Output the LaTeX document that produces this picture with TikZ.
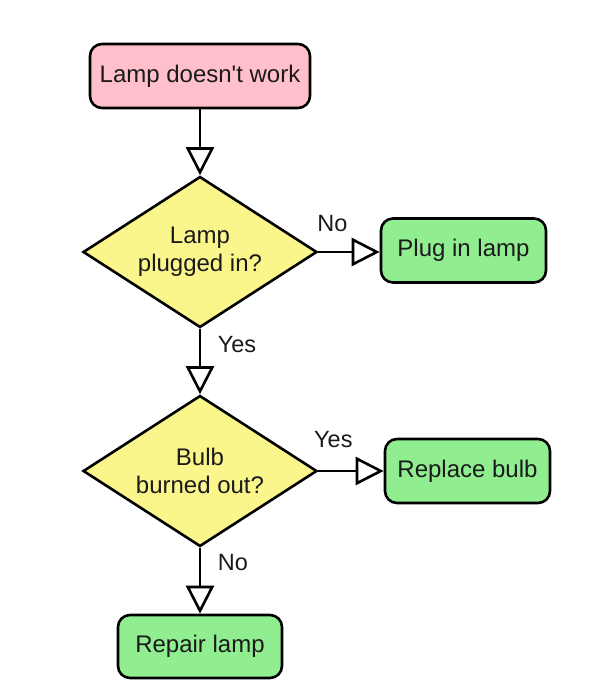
\documentclass[tikz,border=0pt]{standalone}
\usepackage{fontspec}
\setmainfont{Liberation Sans}[Ligatures=TeXOff]
\usetikzlibrary{shapes.geometric,arrows.meta}
\definecolor{boxpink}{RGB}{255,192,203}
\definecolor{boxyellow}{RGB}{250,246,140}
\definecolor{boxgreen}{RGB}{144,238,144}
\definecolor{txt}{RGB}{26,26,26}
\tikzset{
  base/.style={draw=black, line width=2.6pt, text=txt, inner sep=0pt, align=center,
    font=\fontsize{24}{28}\selectfont},
  startbox/.style={base, fill=boxpink, rounded corners=12pt, minimum width=220pt, minimum height=64pt},
  actbox/.style={base, fill=boxgreen, rounded corners=12pt, minimum width=165pt, minimum height=64pt},
  decision/.style={base, diamond, fill=boxyellow, aspect=1.56, minimum width=234pt, minimum height=151pt},
  arr/.style={draw=black, line width=2.6pt, -{Triangle[length=28pt,width=28pt,fill=white,line width=2.6pt]}},
  lbl/.style={text=txt, inner sep=0pt, font=\fontsize{23.5}{28}\selectfont}
}
\begin{document}
\begin{tikzpicture}[x=1pt,y=-1pt]
\useasboundingbox[fill=white] (0,0) rectangle (594,686);
\node[startbox] (start) at (200,76) {Lamp doesn't work};
\node[decision] (d1) at (200,252) {Lamp\\plugged in?};
\node[actbox] (plug) at (463.5,250.5) {Plug in lamp};
\node[decision] (d2) at (200,471) {Bulb\\burned out?};
\node[actbox] (repl) at (467.5,471) {Replace bulb};
\node[actbox, minimum width=164pt, minimum height=63pt] (repair) at (200,646.5) {Repair lamp};
\draw[arr] (start) -- (d1);
\draw[arr] (d1.east) -- node[lbl, pos=0.23, yshift=28pt] {No} (plug.west |- d1.east);
\draw[arr] (d1.south) -- node[lbl, pos=0.24, xshift=37pt] {Yes} (d2.north);
\draw[arr] (d2.east) -- node[lbl, pos=0.23, yshift=31pt] {Yes} (repl.west);
\draw[arr] (d2.south) -- node[lbl, pos=0.22, xshift=33pt] {No} (repair.north);
\end{tikzpicture}
\end{document}
